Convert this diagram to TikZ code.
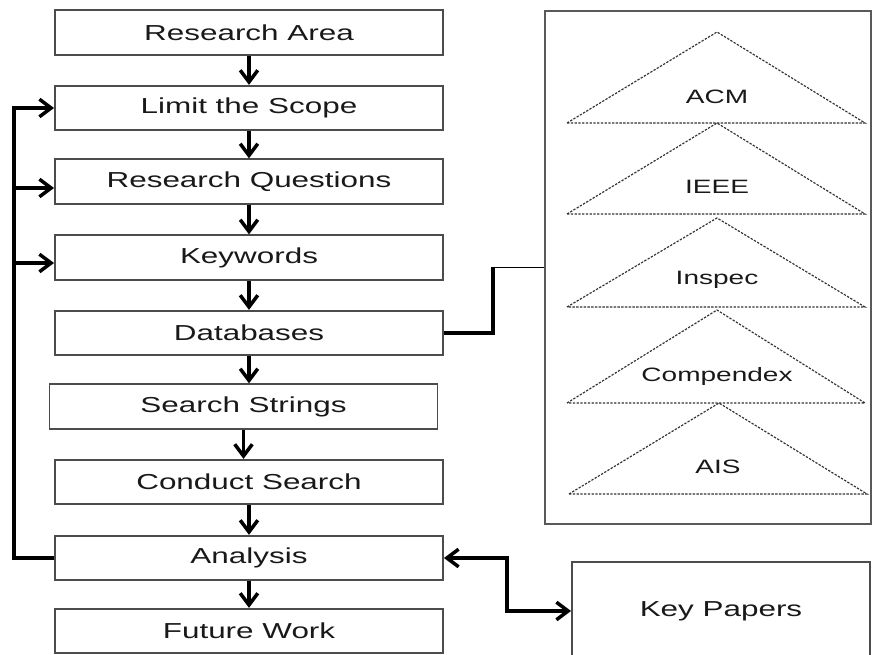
\documentclass[tikz,border=0pt]{standalone}
\usepackage{fontspec}
\setmainfont[FakeStretch=1.45]{Liberation Sans}
\usetikzlibrary{arrows.meta}

\tikzset{
  stepbox/.style={draw=black!70, line width=1.6pt, minimum width=11.64cm, minimum height=1.33cm,
    inner sep=0pt, font=\fontsize{18.5}{20}\selectfont, text=black!90},
  flow/.style={line width=3pt, -{Straight Barb[length=10pt,width=15pt]}},
  twoway/.style={line width=3pt, {Straight Barb[length=10pt,width=15pt]}-{Straight Barb[length=10pt,width=15pt]}},
  dbtri/.style={dash pattern=on 2pt off 1.2pt, line width=1pt, black!80},
  dblabel/.style={font=\fontsize{16.5}{18}\selectfont, text=black!90, inner sep=0pt},
}

\begin{document}
\begin{tikzpicture}[x=0.03cm, y=-0.03cm]
\clip (0,0) rectangle (872,655);

% steps of the review
\node[stepbox] (area)      at (249,32.5)    {Research Area};
\node[stepbox] (scope)     at (249,108)     {Limit the Scope};
\node[stepbox] (questions) at (249,181.5)   {Research Questions};
\node[stepbox] (keywords)  at (249,257.5)   {Keywords};
\node[stepbox] (databases) at (249,333)     {Databases};
\node[stepbox] (strings)   at (243.5,406.5) {Search Strings};
\node[stepbox] (search)    at (249,482)     {Conduct Search};
\node[stepbox] (analysis)  at (249,558)     {Analysis};
\node[stepbox] (future)    at (249,631)     {Future Work};

\draw[flow] (area.south) -- (scope.north);
\draw[flow] (scope.south) -- (questions.north);
\draw[flow] (questions.south) -- (keywords.north);
\draw[flow] (keywords.south) -- (databases.north);
\draw[flow] (databases.south) -- (databases.south |- strings.north);
\draw[flow] (strings.south) -- (strings.south |- search.north);
\draw[flow] (search.south) -- (analysis.north);
\draw[flow] (analysis.south) -- (future.north);

% loop back from analysis
\coordinate (loop) at (14,108);
\coordinate (qin) at ([yshift=-0.195cm]questions.west);
\coordinate (kin) at ([yshift=-0.165cm]keywords.west);
\draw[flow] (analysis.west) -| (loop) -- (scope.west);
\draw[flow] (loop |- qin) -- (qin);
\draw[flow] (loop |- kin) -- (kin);

% databases panel
\node[draw=black!65, line width=1.6pt, minimum width=9.78cm, minimum height=15.39cm, inner sep=0pt]
  (panel) at (708,267.5) {};

\draw[line width=3pt] (databases.east) -- ++(49,0) coordinate (dbturn) -- (dbturn |- panel.west);
\draw[line width=1.2pt] (dbturn |- panel.west) -- (panel.west);

\draw[dbtri] (567,123) -- (717,32)  -- (865,123) -- cycle;
\draw[dbtri] (567,214) -- (717,123) -- (865,214) -- cycle;
\draw[dbtri] (567,307) -- (717,218) -- (865,307) -- cycle;
\draw[dbtri] (567,403) -- (717,310) -- (865,403) -- cycle;
\draw[dbtri] (569,494) -- (719,403) -- (867,494) -- cycle;

\node[dblabel] (acm)       at (717,97)  {ACM};
\node[dblabel] (ieee)      at (717,187) {IEEE};
\node[dblabel] (inspec)    at (717,280) {Inspec};
\node[dblabel] (compendex) at (717,377) {Compendex};
\node[dblabel] (ais)       at (718,467) {AIS};

% key papers
\node[stepbox, minimum width=8.94cm, minimum height=2.94cm] (keypapers) at (721,611) {Key Papers};
\draw[twoway] (analysis.east) -- ++(63,0) |- (keypapers.west);

\end{tikzpicture}
\end{document}
